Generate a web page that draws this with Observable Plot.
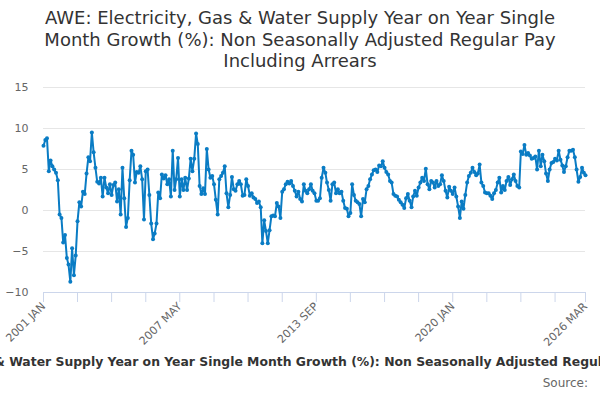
<!DOCTYPE html>
<html>
<head>
<meta charset="utf-8">
<script src="https://cdn.jsdelivr.net/npm/d3@7"></script>
<script src="https://cdn.jsdelivr.net/npm/@observablehq/plot@0.6"></script>
<style>
  html, body { margin: 0; padding: 0; background: #fff; }
  #wrap { position: relative; width: 600px; height: 400px; overflow: hidden; font-family: "DejaVu Sans", Verdana, sans-serif; }
  #title { width: 600px; height: 78px; box-sizing: border-box; padding-top: 7px; text-align: center; font-size: 18px; line-height: 21.5px; color: #333; }
  #chart svg { display: block; }
  #legend { position: absolute; top: 354px; left: 0; width: 600px; height: 18px; overflow: hidden; }
  #legend span { position: absolute; left: calc(50% + 8px); transform: translateX(-50%); white-space: nowrap; font-size: 12.4px; font-weight: bold; color: #333; line-height: 16px; }
  #source { position: absolute; top: 376px; right: 12px; font-size: 12px; color: #666; line-height: 14px; }
</style>
</head>
<body>
<div id="wrap">
  <div id="title">AWE: Electricity, Gas &amp; Water Supply Year on Year Single<br>Month Growth (%): Non Seasonally Adjusted Regular Pay<br>Including Arrears</div>
  <div id="chart"></div>
  <div id="legend"><span>AWE: Electricity, Gas &amp; Water Supply Year on Year Single Month Growth (%): Non Seasonally Adjusted Regular Pay Including Arrears</span></div>
  <div id="source">Source:</div>
</div>
<script>
// Monthly series, 2001 JAN .. 2026 MAR (YoY single month growth, %)
const startYear = 2001;
const startMonth = 0; // January
const growth = [
  // 2001
  7.9, 8.6, 8.8, 4.8, 6.1, 5.4, 5.0, 4.6, 3.7, -0.5, -0.9, -3.9,
  // 2002
  -3.0, -5.8, -6.6, -8.7, -4.6, -7.9, -5.5, -1.3, 1.0, 0.5, 2.3, 2.0,
  // 2003
  4.5, 6.5, 6.0, 9.5, 7.1, 5.2, 3.5, 3.3, 4.0, 1.7, 4.0, 2.8,
  // 2004
  2.1, 3.2, 1.9, 3.1, 3.4, 1.1, 2.6, -0.5, 5.2, 1.5, -2.0, -0.9,
  // 2005
  3.7, 7.3, 6.8, 3.4, 4.7, 4.6, 5.4, 3.8, -1.1, 4.8, 5.0, 1.9,
  // 2006
  -1.6, -3.5, -2.8, -1.6, 2.2, 1.5, 4.4, 3.9, 4.3, 3.2, 3.8, 1.7,
  // 2007
  7.3, 2.5, 3.8, 6.4, 1.7, 3.8, 2.5, 4.0, 2.5, 3.9, 6.3, 4.8,
  // 2008
  6.3, 9.4, 8.1, 3.0, 2.0, 2.7, 2.0, 7.5, 5.0, 4.0, 4.2, 3.2,
  // 2009
  1.3, -0.5, 3.8, 4.2, 4.6, 5.4, 2.1, 0.4, 1.9, 4.1, 2.6, 2.4,
  // 2010
  3.2, 3.6, 3.2, 1.8, 1.9, 3.8, 3.0, 1.8, 2.1, 1.6, 1.4, 0.9,
  // 2011
  1.1, 0.4, -4.0, -1.2, -2.5, -4.0, -2.4, -0.7, -0.6, -0.7, 0.9, 0.5,
  // 2012
  -0.9, 2.3, 2.6, 3.2, 3.5, 3.3, 3.6, 3.0, 2.4, 1.7, 2.3, 1.4,
  // 2013
  1.1, 3.2, 2.4, 2.1, 2.6, 3.2, 2.4, 2.1, 1.2, 1.2, 1.5, 4.0,
  // 2014
  5.2, 4.6, 3.4, 2.5, 1.2, 3.2, 3.4, 2.1, 2.6, 2.1, 2.3, 1.2,
  // 2015
  0.3, 0.2, -0.7, -0.3, 3.2, 1.9, 1.2, 1.0, 0.8, -0.7, 1.4, 1.0,
  // 2016
  2.6, 3.0, 3.8, 4.4, 4.9, 5.0, 4.7, 5.5, 5.4, 6.0, 5.2, 4.7,
  // 2017
  4.4, 3.6, 3.4, 2.0, 1.8, 1.7, 1.3, 1.0, 0.7, 0.3, 1.5, 2.0,
  // 2018
  1.2, 0.4, 1.7, 2.4, 1.8, 2.8, 3.4, 4.0, 3.6, 5.1, 3.2, 2.6,
  // 2019
  3.6, 3.4, 2.8, 3.6, 3.0, 3.2, 4.3, 3.6, 2.4, 1.6, 2.9, 2.4,
  // 2020
  2.0, 2.8, 1.7, 0.5, -0.9, 1.1, 0.2, 1.9, 3.4, 4.2, 4.6, 5.2,
  // 2021
  4.7, 4.3, 4.5, 5.6, 3.4, 3.0, 2.2, 2.1, 2.1, 1.8, 1.4, 2.1,
  // 2022
  2.5, 3.4, 4.0, 2.2, 3.0, 2.5, 3.6, 4.1, 3.1, 3.8, 4.4, 3.6,
  // 2023
  3.0, 2.8, 7.2, 6.9, 8.0, 6.8, 7.0, 6.7, 6.3, 6.4, 6.6, 5.0,
  // 2024
  7.3, 5.4, 6.8, 6.0, 4.5, 3.6, 5.0, 5.8, 5.9, 6.3, 6.1, 7.3,
  // 2025
  6.2, 5.5, 4.7, 5.4, 6.5, 7.3, 7.3, 7.4, 6.5, 5.0, 3.5, 4.1,
  // 2026
  5.2, 4.6, 4.3
];
const yTicks = [-10, -5, 0, 5, 10, 15];
const xTickLabels = ["2001 JAN", "2007 MAY", "2013 SEP", "2020 JAN", "2026 MAR"];
const xTickStepMonths = 19;
const monthNames = ["JAN","FEB","MAR","APR","MAY","JUN","JUL","AUG","SEP","OCT","NOV","DEC"];
const lineColor = "#0a7cc4";

const data = growth.map((v, i) => ({ date: new Date(Date.UTC(startYear, startMonth + i, 1)), value: v }));
const first = data[0].date, last = data[data.length - 1].date;
const nMonths = growth.length - 1;

// axis tick dates: every 19 months from start, plus the final month
const tickDates = [];
for (let k = 0; k * xTickStepMonths < nMonths - 5; k++) tickDates.push(new Date(Date.UTC(startYear, startMonth + k * xTickStepMonths, 1)));
tickDates.push(last);
const fmt = d => d.getUTCFullYear() + " " + monthNames[d.getUTCMonth()];
const labelSet = new Set(xTickLabels);
const tickFormat = d => labelSet.has(fmt(d)) ? fmt(d) : "";

const chart = Plot.plot({
  width: 600,
  height: 270,
  marginTop: 9,
  marginBottom: 56,
  marginLeft: 43,
  marginRight: 15,
  style: { fontFamily: "DejaVu Sans, Verdana, sans-serif", fontSize: "11px", color: "#666", background: "white", overflow: "visible" },
  x: { type: "utc", domain: [first, last] },
  y: { domain: [-10, 15] },
  marks: [
    Plot.gridY(yTicks.filter(t => t > -10), { stroke: "#e6e6e6", strokeOpacity: 1 }),
    Plot.ruleY([-10], { stroke: "#ccd6eb" }),
    Plot.axisY(yTicks, { tickSize: 0, tickPadding: 15, fill: "#666", label: null }),
    Plot.axisX(tickDates, { tickSize: 10, stroke: "#ccd6eb", strokeOpacity: 1, tickPadding: 2, tickRotate: -45, tickFormat, fill: "#666", label: null }),
    Plot.line(data, { x: "date", y: "value", stroke: lineColor, strokeWidth: 2 }),
    Plot.dot(data, { x: "date", y: "value", r: 2, fill: lineColor })
  ]
});
document.getElementById("chart").appendChild(chart);
</script>
</body>
</html>
